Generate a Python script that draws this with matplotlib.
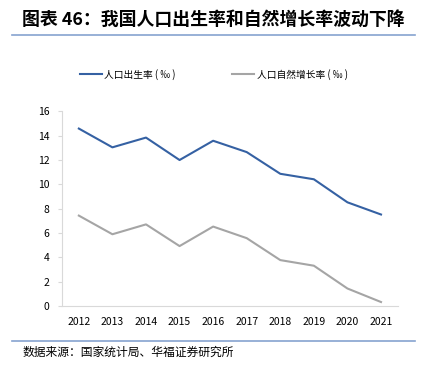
import matplotlib.pyplot as plt
from matplotlib.lines import Line2D

plt.rcParams['font.family'] = ['Noto Sans CJK SC', 'DejaVu Sans']

years = ["2012", "2013", "2014", "2015", "2016", "2017", "2018", "2019", "2020", "2021"]
birth_rate = [14.57, 13.03, 13.83, 11.99, 13.57, 12.64, 10.86, 10.41, 8.52, 7.52]
growth_rate = [7.43, 5.90, 6.71, 4.93, 6.53, 5.58, 3.78, 3.32, 1.45, 0.34]

blue = "#3561A3"
gray = "#A5A5A5"

fig = plt.figure(figsize=(4.25, 3.68), dpi=100)

# title and rules
fig.text(0.052, 0.946, "图表 46：我国人口出生率和自然增长率波动下降", fontsize=12.9,
         fontweight="bold", va="center", ha="left")
fig.add_artist(Line2D([0.028, 0.977], [0.905, 0.905], color="#86A3D0", lw=1.2))
fig.add_artist(Line2D([0.028, 0.977], [0.073, 0.073], color="#86A3D0", lw=1.2))
fig.text(0.052, 0.042, "数据来源：国家统计局、华福证券研究所", fontsize=8.5, va="center", ha="left")

ax = fig.add_axes([0.146, 0.168, 0.79, 0.53])
x = range(len(years))
ax.plot(x, birth_rate, color=blue, lw=1.5, label="人口出生率 ( ‰ )")
ax.plot(x, growth_rate, color=gray, lw=1.5, label="人口自然增长率 ( ‰ )")

ax.set_xlim(-0.5, len(years) - 0.5)
ax.set_ylim(0, 16)
ax.set_yticks(range(0, 17, 2))
ax.set_xticks(list(x))
ax.set_xticklabels(years)
ax.tick_params(axis="x", length=0, labelsize=7.5, pad=8)
ax.tick_params(axis="y", length=3, color="#D9D9D9", labelsize=7.5, pad=6)
for s in ["top", "right"]:
    ax.spines[s].set_visible(False)
ax.spines["left"].set_color("#D9D9D9")
ax.spines["bottom"].set_color("#D9D9D9")

ax.legend(loc="center left", bbox_to_anchor=(0.054, 1.19), ncol=2, frameon=False,
          fontsize=7, handlelength=2.2, columnspacing=5.8, handletextpad=0.3,
          borderaxespad=0, borderpad=0)

fig.savefig("out.png", dpi=100)
